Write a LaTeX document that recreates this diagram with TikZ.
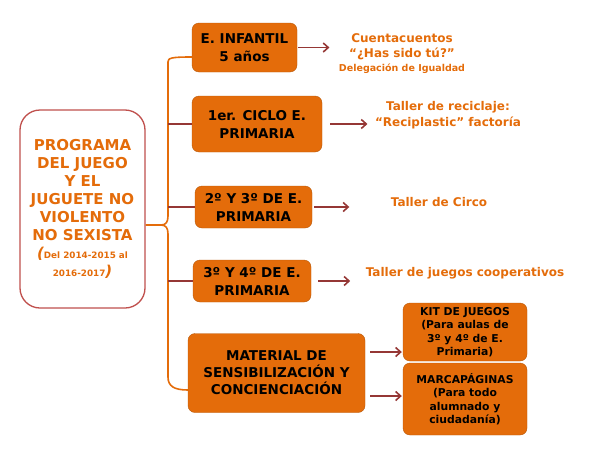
\documentclass[tikz,border=0pt]{standalone}
\usepackage{fontspec}
\setmainfont{DejaVu Sans}
\usepackage{tikz}
\usetikzlibrary{arrows.meta,positioning,calc}
\definecolor{boxorange}{HTML}{E46C0A}
\definecolor{boxedge}{HTML}{B85A0A}
\definecolor{mainedge}{HTML}{C0504D}
\definecolor{arrred}{HTML}{953735}

\begin{document}
\begin{tikzpicture}[x=1pt,y=-1pt,
  box/.style={draw=boxedge,fill=boxorange,rounded corners=7pt,align=center,inner sep=2pt,font=\bfseries\fontsize{13.5}{18}\selectfont},
  lbl/.style={text=boxorange,align=center,font=\bfseries\fontsize{12}{16}\selectfont},
  arr/.style={draw=arrred,line width=1.6pt,-{Straight Barb[length=5pt,width=9pt]}},
  trunk/.style={draw=boxorange,line width=1.6pt},
  tick/.style={draw=arrred,line width=1.5pt}]
  \useasboundingbox (0,0) rectangle (600,450);
  \node[draw=mainedge,line width=1.3pt,fill=white,rounded corners=20pt,minimum width=125pt,minimum height=198pt,text=boxorange,align=center,font=\bfseries\fontsize{15}{18}\selectfont] (prog) at (82.5,209){PROGRAMA\\DEL JUEGO\\Y EL\\JUGUETE NO\\VIOLENTO\\NO SEXISTA\\{\fontsize{8.8}{18}\selectfont{\fontsize{15}{18}\selectfont\itshape(}Del 2014-2015 al}\\{\fontsize{8.8}{18}\selectfont 2016-2017{\fontsize{15}{18}\selectfont\itshape)}}};
  % etapas
  \node[box,minimum width=105pt,minimum height=49pt] (inf) at (244.5,47.5){E. INFANTIL\\5 años};
  \node[box,minimum width=130pt,minimum height=56pt] (ciclo) at (257,124){1er. CICLO E.\\PRIMARIA};
  \node[box,minimum width=117pt,minimum height=42pt] (dos) at (253.5,207){2º Y 3º DE E.\\PRIMARIA};
  \node[box,minimum width=118pt,minimum height=42pt] (tres) at (252,281){3º Y 4º DE E.\\PRIMARIA};
  \node[box,minimum width=177pt,minimum height=79pt,font=\bfseries\fontsize{13.5}{17}\selectfont] (mat) at (276.5,373){MATERIAL DE\\SENSIBILIZACIÓN Y\\CONCIENCIACIÓN};
  \node[box,minimum width=124pt,minimum height=58pt,font=\bfseries\fontsize{10.8}{13.5}\selectfont] (kit) at (465,332){KIT DE JUEGOS\\(Para aulas de\\3º y 4º de E.\\Primaria)};
  \node[box,minimum width=124pt,minimum height=72pt,font=\bfseries\fontsize{10.8}{13.5}\selectfont] (marc) at (465,399){MARCAPÁGINAS\\(Para todo\\alumnado y\\ciudadanía)};
  % actividades
  \node[lbl,font=\bfseries\fontsize{12}{14.5}\selectfont] (cuento) at (402,54){Cuentacuentos\\“¿Has sido tú?”\\{\fontsize{9.5}{14.5}\selectfont Delegación de Igualdad}};
  \node[lbl] (recic) at (448,115){Taller de reciclaje:\\“Reciplastic” factoría};
  \node[lbl] (circo) at (439,202){Taller de Circo};
  \node[lbl] (coop) at (465,273){Taller de juegos cooperativos};
  % tronco
  \coordinate (spine) at (168,0);
  \draw[trunk] ([yshift=-16pt]prog.east) -- (161,225) .. controls (166,225) and (168,222) .. (168,216) -- (168,62) .. controls (168,58) and (171,57) .. ([yshift=-9.5pt]inf.west);
  \draw[trunk] (161,225) .. controls (166,225) and (168,228) .. (168,234) -- (168,377) .. controls (168,386) and (174,390) .. ([yshift=-17pt]mat.west);
  \foreach \b in {ciclo,dos,tres}
    \draw[tick] (\b.west) -- (\b.west -| spine);
  % flechas
  \draw[arr,shorten <=1pt,shorten >=6pt] (inf.east) -- (inf.east -| cuento.west);
  \draw[arr,shorten <=8pt,shorten >=4pt] (ciclo.east) -- (ciclo.east -| recic.west);
  \draw[arr,shorten <=2pt,shorten >=38pt] (dos.east) -- (dos.east -| circo.west);
  \draw[arr,shorten <=7pt,shorten >=12pt] (tres.east) -- (tres.east -| coop.west);
  \draw[arr,shorten <=5pt,shorten >=1pt] ([yshift=21pt]mat.east) -- ([yshift=21pt]mat.east -| kit.west);
  \draw[arr,shorten <=5pt,shorten >=1pt] ([yshift=-23pt]mat.east) -- ([yshift=-23pt]mat.east -| marc.west);
\end{tikzpicture}
\end{document}
